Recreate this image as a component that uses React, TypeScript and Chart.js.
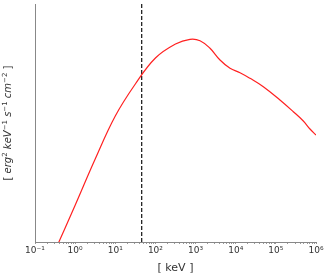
import React, { useEffect, useRef } from "react";
import { Chart, registerables } from "chart.js";

Chart.register(...registerables);

// Spectrum (energy in keV, flux in arbitrary units, y axis has no ticks)
const energies = [
  0.316, 1, 3.16, 10, 31.6, 100, 316, 726, 1291, 2291, 4064, 7211, 12794,
  22700, 48750, 126500, 272300, 483100, 707900, 1000000,
];
const flux = [
  -8.6, 36.8, 83, 126, 158, 184, 198, 202.7, 201.3, 193.7, 182, 173.7, 169.3,
  163.7, 155.3, 142, 130.3, 121, 113, 107,
];
const peakEnergy = [45.5, 45.5];
const peakLine = [0, 238];
const yMin = 0;
const yMax = 238;
const xMin = 0.1;
const xMax = 1e6;
const decadeLabels: Record<string, string> = {
  "-1": "10⁻¹",
  "0": "10⁰",
  "1": "10¹",
  "2": "10²",
  "3": "10³",
  "4": "10⁴",
  "5": "10⁵",
  "6": "10⁶",
};
const xTitle = "[ keV ]";
const yTitleParts: [string, string][] = [
  ["[ ", "n"],
  ["erg", "i"],
  ["2", "s"],
  [" keV", "i"],
  ["−1", "s"],
  [" s", "i"],
  ["−1", "s"],
  [" cm", "i"],
  ["−2", "s"],
  [" ]", "n"],
];

const FONT = "'DejaVu Sans', sans-serif";

const titlesPlugin = {
  id: "titles",
  afterDraw(chart: any) {
    const ctx = chart.ctx as CanvasRenderingContext2D;
    const area = chart.chartArea;
    ctx.save();
    ctx.fillStyle = "#333";
    // x title
    ctx.font = `11px ${FONT}`;
    ctx.textAlign = "center";
    ctx.textBaseline = "middle";
    ctx.fillText(xTitle, (area.left + area.right) / 2, 268);
    // y title
    const base = 10;
    const fontFor = (k: string) =>
      k === "i"
        ? `italic ${base}px ${FONT}`
        : k === "s"
        ? `${base * 0.7}px ${FONT}`
        : `${base}px ${FONT}`;
    let total = 0;
    for (const [t, k] of yTitleParts) {
      ctx.font = fontFor(k);
      total += ctx.measureText(t).width;
    }
    ctx.translate(8.5, (area.top + area.bottom) / 2);
    ctx.rotate(-Math.PI / 2);
    ctx.textAlign = "left";
    ctx.textBaseline = "middle";
    let x = -total / 2;
    for (const [t, k] of yTitleParts) {
      ctx.font = fontFor(k);
      const dy = k === "s" ? -3.5 : 0;
      ctx.fillText(t, x, dy);
      x += ctx.measureText(t).width;
    }
    ctx.restore();
  },
};

export default function App() {
  const ref = useRef<HTMLCanvasElement | null>(null);
  useEffect(() => {
    document.body.style.margin = "0";
    const canvas = ref.current!;
    const chart = new Chart(canvas, {
      type: "line",
      data: {
        datasets: [
          {
            data: energies.map((e, i) => ({ x: e, y: flux[i] })),
            borderColor: "#ff2020",
            borderWidth: 1.2,
            pointRadius: 0,
            tension: 0.4,
            fill: false,
          },
          {
            data: peakEnergy.map((e, i) => ({ x: e, y: peakLine[i] })),
            borderColor: "#111",
            borderWidth: 1.2,
            borderDash: [4, 2],
            pointRadius: 0,
            fill: false,
          },
        ],
      },
      options: {
        animation: false,
        responsive: false,
        maintainAspectRatio: false,
        layout: { padding: { top: 4, right: 12, left: 0, bottom: 0 } },
        plugins: {
          legend: { display: false },
          tooltip: { enabled: false },
        },
        scales: {
          x: {
            type: "logarithmic",
            min: xMin,
            max: xMax,
            afterBuildTicks(scale: any) {
              const ticks: any[] = [];
              for (let d = -1; d <= 6; d++) {
                for (let m = 1; m <= 9; m++) {
                  const v = m * Math.pow(10, d);
                  if (v > xMax * 1.0001) break;
                  ticks.push({ value: v, major: m === 1 });
                }
              }
              scale.ticks = ticks;
            },
            afterFit(scale: any) {
              scale.height = 37;
            },
            ticks: {
              autoSkip: false,
              maxRotation: 0,
              minRotation: 0,
              padding: 1,
              color: "#333",
              font: { family: FONT, size: 9 },
              callback(value: any) {
                const lg = Math.log10(Number(value));
                const r = Math.round(lg);
                if (Math.abs(lg - r) < 1e-6) return decadeLabels[String(r)];
                return "";
              },
            },
            grid: {
              display: true,
              drawOnChartArea: false,
              drawTicks: true,
              tickLength: 2,
              color: "#999",
            },
            border: { display: true, color: "#888", width: 1 },
          },
          y: {
            type: "linear",
            min: yMin,
            max: yMax,
            afterFit(scale: any) {
              scale.width = 35;
            },
            ticks: { display: false },
            grid: { display: false, drawTicks: false },
            border: { display: true, color: "#888", width: 1 },
          },
        },
      },
      plugins: [titlesPlugin],
    } as any);
    return () => chart.destroy();
  }, []);
  return (
    <div style={{ position: "absolute", left: 0, top: 0, width: 328, height: 279 }}>
      <canvas ref={ref} width={328} height={279} style={{ display: "block" }} />
    </div>
  );
}
